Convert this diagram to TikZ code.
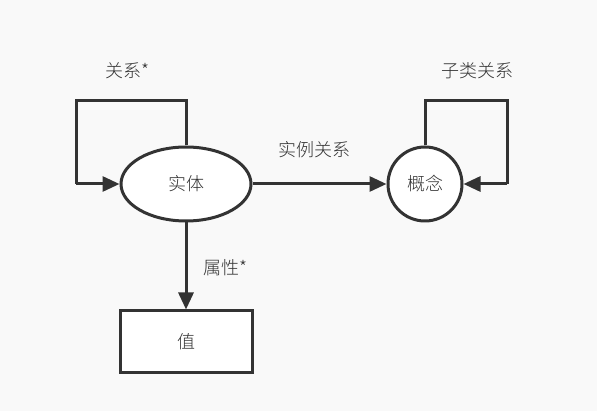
\documentclass[tikz,border=0pt]{standalone}
\usepackage{fontspec}
\newfontfamily\cjk{Noto Sans CJK SC Light}
\usetikzlibrary{arrows.meta,shapes.geometric}
\definecolor{ink}{HTML}{333333}
\definecolor{bg}{HTML}{F9F9F9}
\tikzset{
  conn/.style={draw=ink, line width=3pt, -{Triangle[length=17pt,width=15pt]}},
  loopline/.style={draw=ink, line width=3pt},
  shp/.style={draw=ink, line width=3pt, fill=white, font=\cjk\fontsize{18}{21}\selectfont, text=ink, inner sep=0pt},
  lbl/.style={font=\cjk\fontsize{18}{21}\selectfont, text=ink, inner sep=0pt}
}
\begin{document}
\begin{tikzpicture}[x=1pt,y=-1pt]
\fill[bg] (0,0) rectangle (597,411);
\useasboundingbox (0,0) rectangle (597,411);
\node[shp, ellipse, minimum width=130pt, minimum height=74pt] (ent) at (186,184) {实体};
\node[shp, circle, minimum size=74pt] (con) at (425,184) {概念};
\node[shp, rectangle, minimum width=132pt, minimum height=62pt] (val) at (186,342) {值};
\coordinate (a1) at (186,101);
\coordinate (a2) at (76,101);
\coordinate (a3) at (76,184);
\coordinate (b1) at (425,101);
\coordinate (b2) at (507,101);
\coordinate (b3) at (507,184);
\draw[loopline] (ent.north) -- (a1) -- (a2) -- (a3);
\draw[conn] (a3) -- (ent.west);
\draw[loopline] (con.north) -- (b1) -- (b2) -- (b3);
\draw[conn] (b3) -- (con.east);
\draw[conn] (ent.east) -- (con.west);
\draw[conn] (ent.south) -- (val.north);
\node[lbl] (l1) at (127,71) {关系*};
\node[lbl] (l2) at (477,71) {子类关系};
\node[lbl] (l3) at (314,150) {实例关系};
\node[lbl] (l4) at (225,268) {属性*};
\end{tikzpicture}
\end{document}
